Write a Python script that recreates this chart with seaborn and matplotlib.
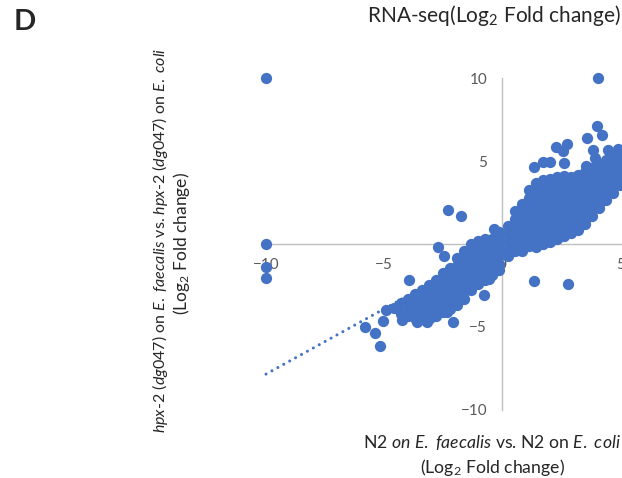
import matplotlib
matplotlib.use("Agg")
import matplotlib.pyplot as plt
import pandas as pd
import seaborn as sns

# Log2 fold change values
# main up-regulated cloud: one x per column, the y values stacked in that column
pos_col_x = [0.24, 0.54, 0.83, 1.13, 1.43, 1.72, 2.02, 2.32, 2.62,
             2.91, 3.21, 3.50, 3.80, 4.09, 4.39, 4.68, 4.98, 5.28]
pos_col_y = [
    [1.09, 0.60, 0.12, -0.36, -0.72],
    [1.99, 1.51, 1.03, 0.54, 0.06, -0.42],
    [2.41, 1.93, 1.45, 0.97, 0.48, 0.00, -0.42],
    [3.26, 2.78, 2.29, 1.81, 1.33, 0.84, 0.36, -0.12],
    [3.68, 3.20, 2.72, 2.23, 1.75, 1.27, 0.78, 0.30, -0.18],
    [3.86, 3.38, 2.90, 2.41, 1.93, 1.45, 0.97, 0.48, 0.00],
    [3.92, 3.44, 2.96, 2.47, 1.99, 1.51, 1.03, 0.54, 0.12],
    [4.04, 3.56, 3.08, 2.60, 2.11, 1.63, 1.15, 0.66, 0.30],
    [4.10, 3.62, 3.14, 2.66, 2.17, 1.69, 1.21, 0.72, 0.48],
    [4.04, 3.56, 3.08, 2.60, 2.11, 1.63, 1.15, 0.66],
    [4.16, 3.68, 3.20, 2.72, 2.23, 1.75, 1.27, 0.84],
    [4.35, 3.86, 3.38, 2.90, 2.41, 1.93, 1.45, 1.21],
    [4.59, 4.10, 3.62, 3.14, 2.66, 2.17, 1.69],
    [4.83, 4.35, 3.86, 3.38, 2.90, 2.41, 2.17],
    [5.07, 4.59, 4.10, 3.62, 3.14, 2.66],
    [5.31, 4.83, 4.35, 3.86, 3.38, 3.08],
    [5.43, 4.95, 4.47, 3.98, 3.56],
    [5.55, 5.07, 4.59, 4.10, 3.62],
]

# main down-regulated cloud
neg_col_x = [-0.14, -0.44, -0.73, -1.03, -1.32, -1.62, -1.92, -2.21,
             -2.51, -2.81, -3.10, -3.40, -3.69, -3.99, -4.29, -4.58]
neg_col_y = [
    [0.72, 0.24, -0.24, -0.72, -1.21, -1.57],
    [0.30, -0.18, -0.66, -1.15, -1.63, -1.87],
    [0.30, -0.18, -0.66, -1.15, -1.63, -2.17],
    [0.18, -0.30, -0.78, -1.27, -1.75, -2.23, -2.41],
    [0.00, -0.48, -0.97, -1.45, -1.93, -2.41, -2.78],
    [-0.42, -0.91, -1.39, -1.87, -2.35, -2.84, -3.32],
    [-0.84, -1.33, -1.81, -2.29, -2.78, -3.26, -3.68],
    [-1.45, -1.93, -2.41, -2.90, -3.38, -3.92],
    [-1.75, -2.23, -2.72, -3.20, -3.68, -4.10],
    [-2.17, -2.66, -3.14, -3.62, -4.10, -4.35],
    [-2.47, -2.96, -3.44, -3.92, -4.47],
    [-2.78, -3.26, -3.74, -4.22, -4.53],
    [-3.02, -3.50, -3.98, -4.47],
    [-3.32, -3.80, -4.35],
    [-3.56, -4.22],
    [-3.86],
]

# isolated genes
out_x = [-10, -10, -10, -10, 4.06,
         3.99, 4.23, 3.60, 2.28, 2.75, 2.58, 3.85, 4.49, 4.88,
         1.32, 1.73, 2.00, 2.63, 3.54, 3.92, 1.34, 2.79,
         -0.35, -2.30, -1.75, -2.73, -2.45, -3.94, -0.77, -0.56, -2.07,
         -4.93, -5.04, -5.81, -5.40, -5.16, -4.23, -3.91, -3.06, -3.20,
         -3.62, -2.35, -1.65]
out_y = [10, 0, -1.37, -2.07, 10.0,
         7.10, 6.58, 6.38, 5.85, 6.03, 5.63, 5.67, 5.69, 5.71,
         4.63, 4.97, 4.94, 4.91, 4.71, 5.17, -2.23, -2.41,
         0.89, 2.05, 1.69, -0.20, -0.72, -2.19, -3.10, -2.11, -4.69,
         -4.01, -4.63, -5.00, -5.35, -6.18, -4.59, -4.28, -4.49, -4.69,
         -4.69, -4.08, -3.18]

# linear trendline
trend_x = [-10, 10]
trend_y = [-7.85, 7.89]

x_ticks = [-10, -5, 0, 5]
y_ticks = [-10, -5, 0, 5, 10]

xs, ys = [], []
for cx, col in zip(pos_col_x + neg_col_x, pos_col_y + neg_col_y):
    xs += [cx] * len(col)
    ys += col
df = pd.DataFrame({"x": xs + out_x, "y": ys + out_y})

sns.set_theme(style="white")
plt.rcParams["font.family"] = ["Lato", "DejaVu Sans"]
plt.rcParams["mathtext.fontset"] = "custom"
plt.rcParams["mathtext.rm"] = "Lato"
plt.rcParams["mathtext.it"] = "Lato:italic"
plt.rcParams["mathtext.bf"] = "Lato:bold"

blue = "#4472C4"
fig = plt.figure(figsize=(6.22, 4.78), dpi=100)
ax = fig.add_axes([0.3897, 0.1082, 0.6105, 0.7628])

sns.scatterplot(data=df, x="x", y="y", color=blue, s=66, linewidth=0, ax=ax, zorder=2)
sns.lineplot(x=trend_x, y=trend_y, ax=ax, color=blue, lw=2.2,
             linestyle=(0, (0.01, 2.2)), dash_capstyle="round", zorder=3)

ax.set_xlim(-11, 5.07)
ax.set_ylim(-11, 11)
ax.set(xlabel="", ylabel="")

# axes cross at the origin, Excel style
for side in ["top", "right"]:
    ax.spines[side].set_visible(False)
ax.spines["left"].set_position(("data", 0))
ax.spines["bottom"].set_position(("data", 0))
ax.spines["left"].set_bounds(-10, 10)
ax.spines["bottom"].set_bounds(-10, 10)
for side in ["left", "bottom"]:
    ax.spines[side].set_color("#BFBFBF")
    ax.spines[side].set_linewidth(1.0)
    ax.spines[side].set_zorder(0.5)

ax.set_xticks(x_ticks)
ax.set_yticks(y_ticks)
ax.tick_params(axis="both", length=0, labelsize=11, labelcolor="#595959")
ax.tick_params(axis="x", pad=10)
ax.tick_params(axis="y", pad=11)

fig.text(25 / 622, 1 - 22.5 / 478, "D", fontsize=21, fontweight="bold",
         ha="center", va="center")
fig.text(494 / 622, 1 - 16 / 478, "RNA-seq(Log$_2$ Fold change)", fontsize=15,
         ha="center", va="center")
fig.text(492 / 622, 1 - 443 / 478,
         r"N2 $\mathit{on\ E.\ faecalis}$ vs. N2 on $\mathit{E.\ coli}$",
         fontsize=12.7, ha="center", va="center")
fig.text(492 / 622, 1 - 468 / 478, "(Log$_2$ Fold change)", fontsize=12.7,
         ha="center", va="center")
fig.text(160 / 622, 1 - 240 / 478,
         r"$\mathit{hpx}$-$\mathit{2\ (dg047)}$ on $\mathit{E.\ faecalis}$ vs. "
         r"$\mathit{hpx}$-$\mathit{2\ (dg047)}$ on $\mathit{E.\ coli}$",
         fontsize=11.5, rotation=90, ha="center", va="center")
fig.text(181 / 622, 1 - 244 / 478, "(Log$_2$ Fold change)", fontsize=12.5,
         rotation=90, ha="center", va="center")

fig.savefig("out.png", dpi=100)
